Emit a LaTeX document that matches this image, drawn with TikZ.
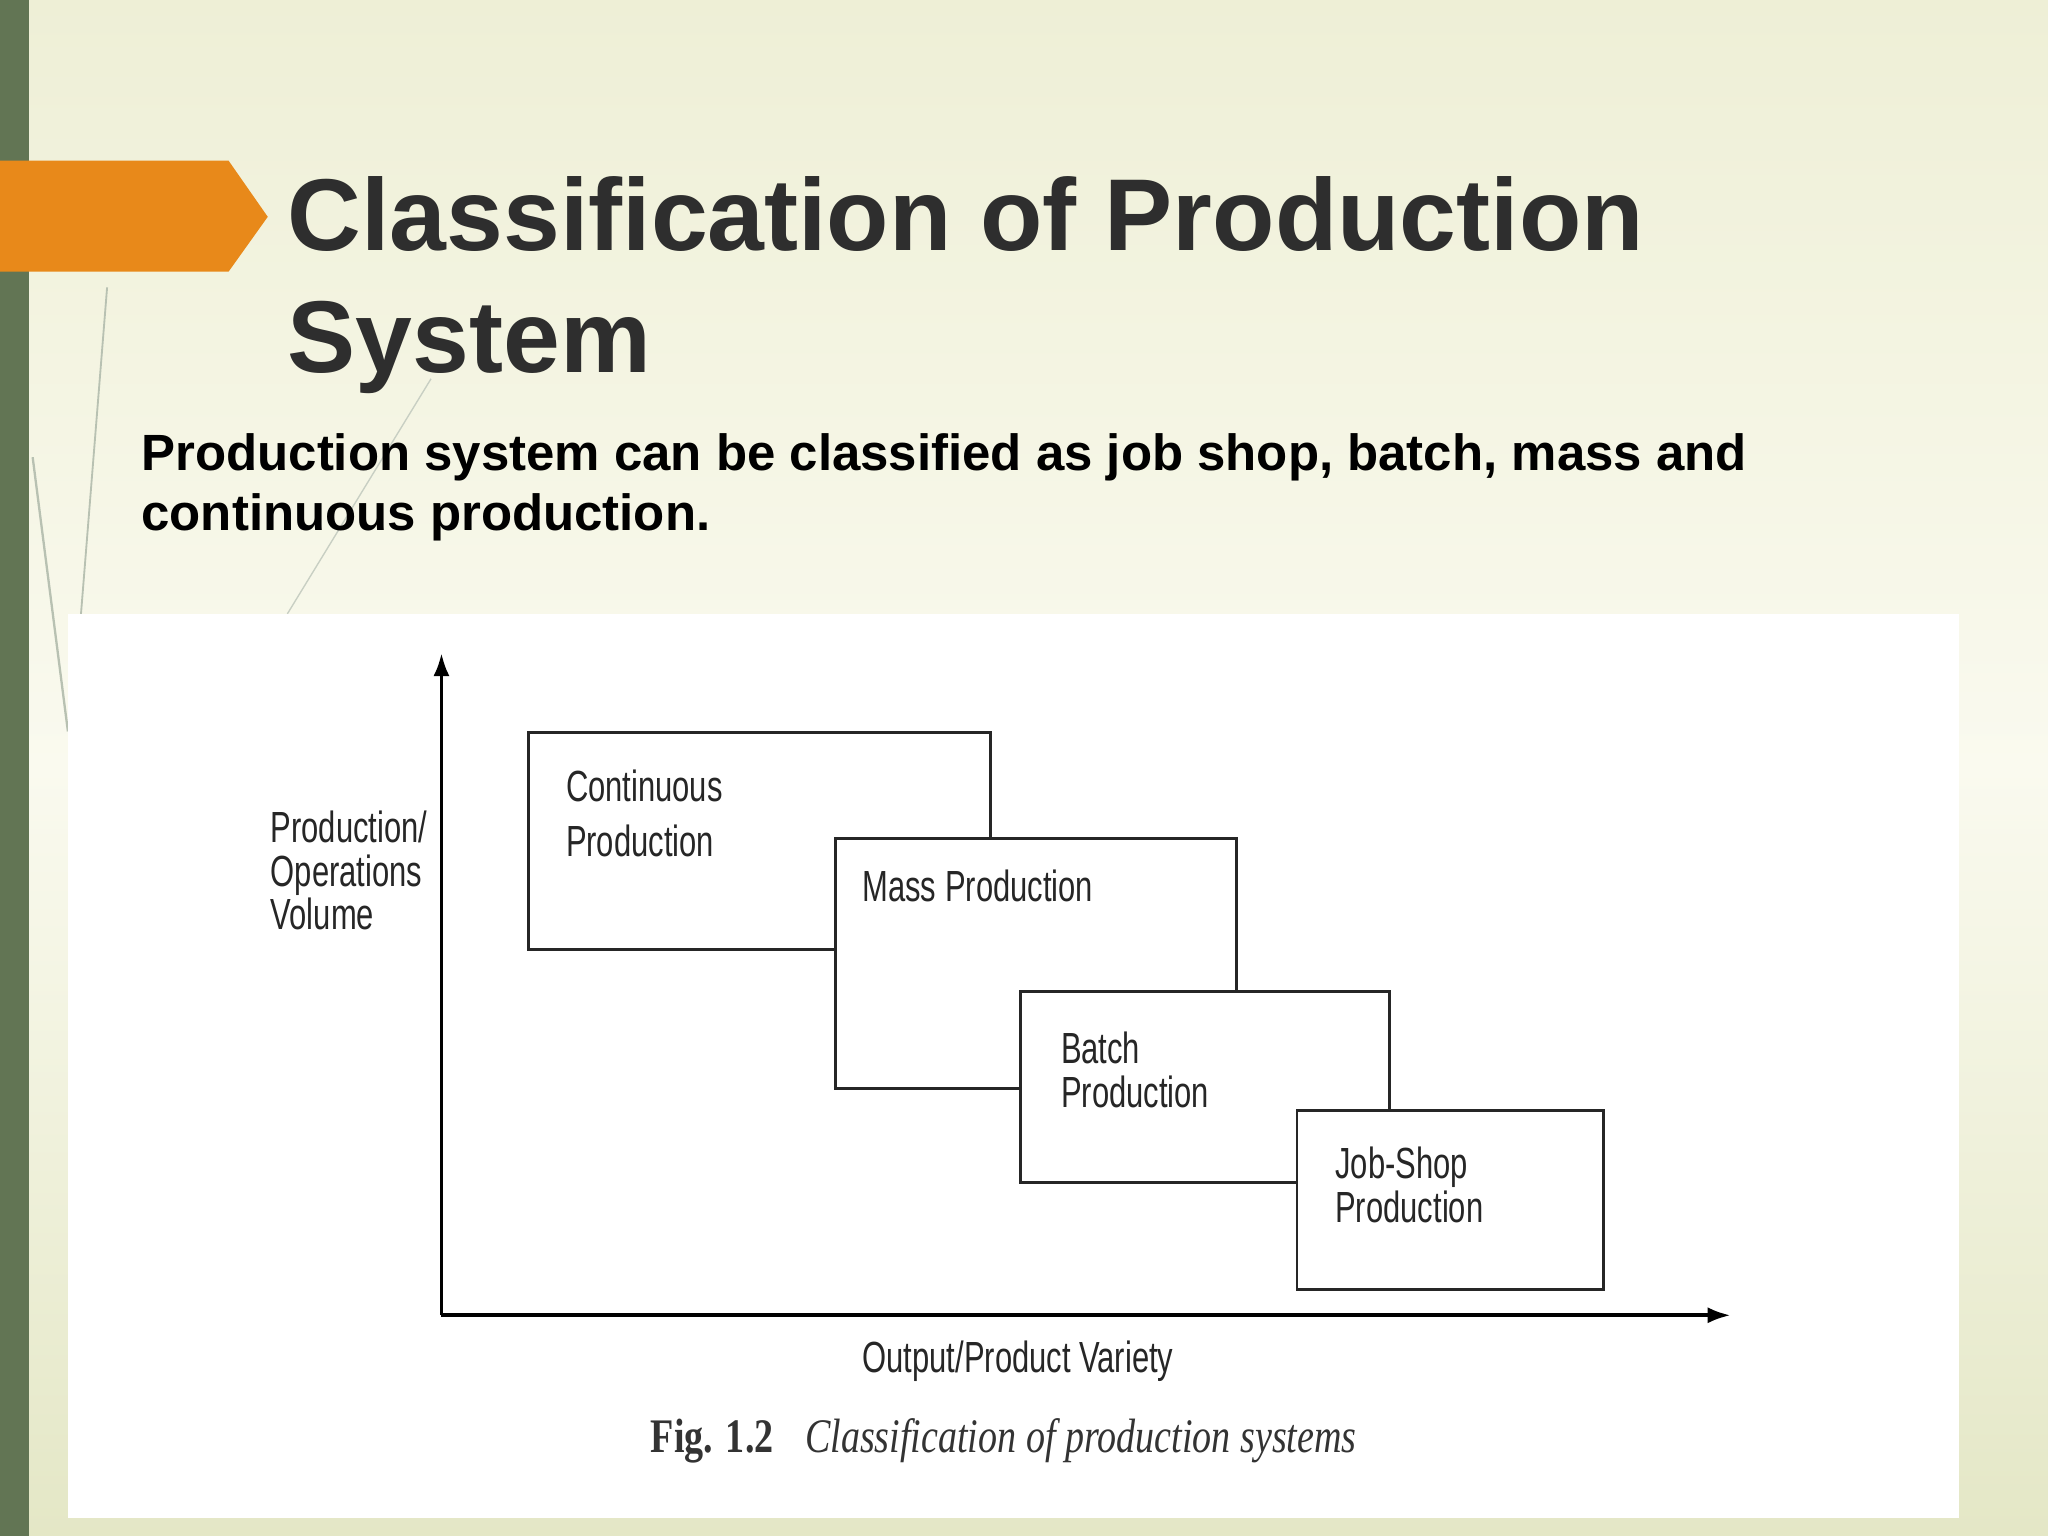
\documentclass[tikz,border=0pt]{standalone}
\usepackage{fontspec}
\usetikzlibrary{arrows.meta}
\setmainfont{Liberation Serif}
\setsansfont{Liberation Sans}
\newfontfamily\narrow[FakeStretch=0.71]{Liberation Sans}
\newfontfamily\narrowserif[FakeStretch=0.79]{Liberation Serif}
\definecolor{bgtop}{HTML}{EEEFD6}
\definecolor{bgmid}{HTML}{FAFAEF}
\definecolor{bgbot}{HTML}{E4E7C6}
\definecolor{barc}{HTML}{627554}
\definecolor{orng}{HTML}{E8891A}
\begin{document}
\begin{tikzpicture}[x=0.02cm,y=-0.02cm,
  box/.style={draw=black!85,line width=1.3pt,fill=white},
  lbl/.style={anchor=base west,font=\narrow\fontsize{19}{23}\selectfont,text=black!85,align=left,inner sep=0pt},
  ttl/.style={anchor=base west,font=\sffamily\bfseries\fontsize{44.5}{55}\selectfont,text=black!82,inner sep=0pt},
  sub/.style={anchor=base west,font=\sffamily\bfseries\fontsize{22.2}{26}\selectfont,inner sep=0pt},
  axis/.style={line width=1.6pt,-{Latex[length=10pt,width=7pt]}}]
\useasboundingbox (0,0) rectangle (1568,1176);
\shade[top color=bgtop, bottom color=bgbot, middle color=bgmid] (0,0) rectangle (1568,1176);
\fill[barc] (0,0) rectangle (22,1176);
\draw[barc!45,line width=0.8pt] (82,220) -- (62,470);
\draw[barc!35,line width=0.6pt] (330,290) -- (220,470);
\draw[barc!45,line width=1pt] (25,350) -- (52,560);
\fill[orng] (0,123) -- (175,123) -- (205,166) -- (175,208) -- (0,208) -- cycle;
\node[ttl] (t1) at (220,192) {Classification of Production};
\node[ttl] (t2) at (220,285) {System};
\node[sub] (s1) at (108,360) {Production system can be classified as job shop, batch, mass and};
\node[sub] (s2) at (108,406) {continuous production.};
\fill[white] (52,470) rectangle (1500,1162);
\coordinate (o) at (338,1007);
\coordinate (yt) at (338,500);
\coordinate (xt) at (1325,1007);
\draw[axis] (o) -- (yt);
\draw[axis] (o) -- (xt);
\draw[box] (405,561) rectangle (758,727);
\draw[box] (640,642) rectangle (947,833);
\draw[box] (781,759) rectangle (1064,905);
\draw[box] (993,850) rectangle (1228,987);
\node[lbl] (c1) at (433,614) {Continuous};
\node[lbl] (c2) at (433,656) {Production};
\node[lbl] (m) at (660,690) {Mass Production};
\node[lbl] (b1) at (812,814) {Batch};
\node[lbl] (b2) at (812,848) {Production};
\node[lbl] (j1) at (1022,902) {Job-Shop};
\node[lbl] (j2) at (1022,936) {Production};
\node[lbl] (a1) at (207,645) {Production/};
\node[lbl] (a2) at (207,679) {Operations};
\node[lbl] (a3) at (207,712) {Volume};
\node[lbl] (xl) at (660,1051) {Output/Product Variety};
\node[anchor=base west,inner sep=0pt,font=\narrowserif\fontsize{21}{25}\selectfont\bfseries,text=black!80] (f1) at (498,1112) {Fig. 1.2};
\node[anchor=base west,inner sep=0pt,font=\narrowserif\fontsize{21}{25}\selectfont\itshape,text=black!80] (f2) at (616,1112) {Classification of production systems};
\end{tikzpicture}
\end{document}
